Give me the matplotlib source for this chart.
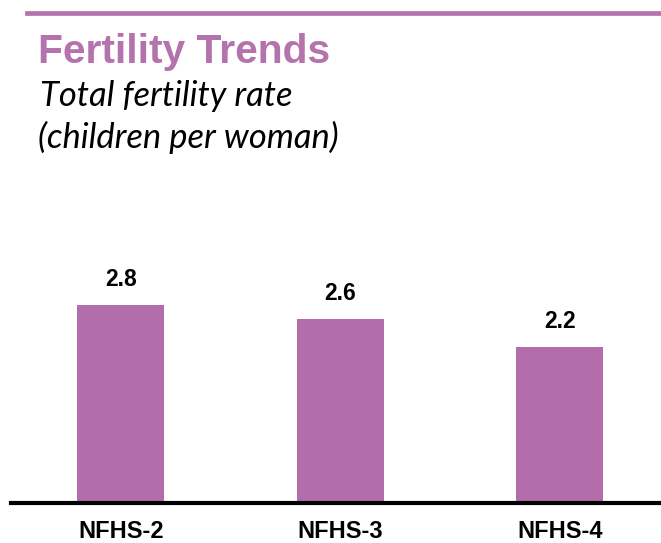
import matplotlib
matplotlib.use("Agg")
import matplotlib.pyplot as plt
from matplotlib.lines import Line2D

# Data
categories = ["NFHS-2", "NFHS-3", "NFHS-4"]
values = [2.8, 2.6, 2.2]

W, H = 661, 543
DPI = 100
purple = "#B36DAB"
title_purple = "#B573AE"

fig = plt.figure(figsize=(W / DPI, H / DPI), dpi=DPI)

# axes placement (pixel based)
ax_left_px, ax_right_px = 11, 661
ax_bottom_px, ax_top_px = 503, 200
ax = fig.add_axes([ax_left_px / W, 1 - ax_bottom_px / H,
                   (ax_right_px - ax_left_px) / W, (ax_bottom_px - ax_top_px) / H])

x = list(range(len(categories)))
bars = ax.bar(x, values, width=0.396, color=purple, zorder=2)
ax.set_xlim(-0.501, 2.462)
ax.set_ylim(0, (ax_bottom_px - ax_top_px) / 70.8)

for s in ["top", "right", "left"]:
    ax.spines[s].set_visible(False)
ax.spines["bottom"].set_linewidth(3)
ax.spines["bottom"].set_color("black")
ax.spines["bottom"].set_zorder(3)
ax.set_yticks([])
ax.set_xticks(x, categories, fontfamily="Liberation Sans", fontweight="bold", fontsize=17)
ax.tick_params(axis="x", length=0, pad=12)

ax.bar_label(bars, labels=[f"{v:.1f}" for v in values], padding=10,
             fontfamily="Liberation Sans", fontweight="bold", fontsize=16.5)

# top decorative line
fig.add_artist(Line2D([27 / W, 1.0], [1 - 13 / H, 1 - 13 / H], color=title_purple,
                      linewidth=3.4, transform=fig.transFigure))

# title & subtitle
fig.text(38 / W, 1 - 63 / H, "Fertility Trends", fontfamily="Liberation Sans",
         fontweight="bold", fontsize=29.3, color=title_purple, va="baseline", ha="left")
fig.text(40 / W, 1 - 106 / H, "Total fertility rate", fontfamily="Lato",
         fontstyle="italic", fontsize=24.8, color="black", va="baseline", ha="left")
fig.text(38 / W, 1 - 148 / H, "(children per woman)", fontfamily="Lato",
         fontstyle="italic", fontsize=24.8, color="black", va="baseline", ha="left")

fig.savefig("out.png", dpi=DPI)
